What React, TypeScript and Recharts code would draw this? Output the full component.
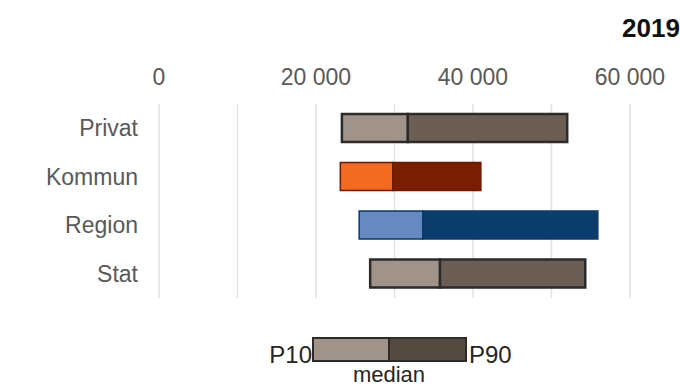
import React from 'react';
import { BarChart, Bar, XAxis, YAxis, CartesianGrid, Cell } from 'recharts';

const categories = ['Privat', 'Kommun', 'Region', 'Stat'];
const p10 = [23300, 23100, 25500, 26900];
const median = [31700, 29800, 33600, 35800];
const p90 = [52000, 41000, 55900, 54300];
const xTicks = [0, 10000, 20000, 30000, 40000, 50000, 60000];
const labeledTicks = [0, 20000, 40000, 60000];
const title = '2019';
const legendLabels = { low: 'P10', high: 'P90', mid: 'median' };

const lightColors = ['#a09389', '#f26b21', '#6589c0', '#a09389'];
const darkColors = ['#6b5f55', '#7a1e00', '#0b3d6d', '#6b5f55'];
const strokeColors = ['#2d2a27', '#6a1a00', '#0a3a6a', '#2d2a27'];
const strokeWidths = [2.5, 1.5, 1.5, 2.5];

const data = categories.map((c, i) => ({
  name: c,
  base: p10[i],
  low: median[i] - p10[i],
  high: p90[i] - median[i],
}));

const FONT = '"Liberation Sans", Arial, sans-serif';

const fmt = (v: number) =>
  labeledTicks.includes(v) ? (v === 0 ? '0' : `${v / 1000} 000`) : '';

export default function App() {
  return (
    <div style={{ position: 'absolute', left: 0, top: 0, width: 680, height: 388, background: '#fff', fontFamily: FONT, overflow: 'hidden' }}>
      <BarChart
        width={680}
        height={388}
        data={data}
        layout="vertical"
        margin={{ top: 74, right: 50, bottom: 90, left: 0 }}
        barSize={28}
      >
        <CartesianGrid horizontal={false} stroke="#e0e0e0" strokeWidth={1.5} />
        <XAxis
          type="number"
          orientation="top"
          domain={[0, 60000]}
          ticks={xTicks}
          tickFormatter={fmt}
          axisLine={false}
          tickLine={false}
          height={30}
          tickMargin={13}
          tick={{ fill: '#595959', fontSize: 23, fontFamily: FONT }}
          interval={0}
        />
        <YAxis
          type="category"
          dataKey="name"
          width={159}
          axisLine={false}
          tickLine={false}
          tickMargin={15}
          tick={{ fill: '#595959', fontSize: 23, fontFamily: FONT }}
        />
        <Bar dataKey="base" stackId="a" fill="transparent" isAnimationActive={false} />
        <Bar dataKey="low" stackId="a" isAnimationActive={false}>
          {data.map((d, i) => (
            <Cell key={d.name} fill={lightColors[i]} stroke={strokeColors[i]} strokeWidth={strokeWidths[i]} />
          ))}
        </Bar>
        <Bar dataKey="high" stackId="a" isAnimationActive={false}>
          {data.map((d, i) => (
            <Cell key={d.name} fill={darkColors[i]} stroke={strokeColors[i]} strokeWidth={strokeWidths[i]} />
          ))}
        </Bar>
      </BarChart>
      <svg width={680} height={388} style={{ position: 'absolute', left: 0, top: 0, pointerEvents: 'none' }}>
        <text x={622} y={37} fontSize={26} fontWeight="bold" fill="#111" fontFamily={FONT}>{title}</text>
        <rect x={313} y={338} width={76} height={23} fill="#a09389" stroke="#2d2a27" strokeWidth={2} />
        <rect x={389} y={338} width={77} height={23} fill="#554a40" stroke="#2d2a27" strokeWidth={2} />
        <text x={312} y={363} textAnchor="end" fontSize={24} fill="#262626" fontFamily={FONT}>{legendLabels.low}</text>
        <text x={469} y={363} textAnchor="start" fontSize={24} fill="#262626" fontFamily={FONT}>{legendLabels.high}</text>
        <text x={389} y={382} textAnchor="middle" fontSize={22} fill="#262626" fontFamily={FONT}>{legendLabels.mid}</text>
      </svg>
    </div>
  );
}
